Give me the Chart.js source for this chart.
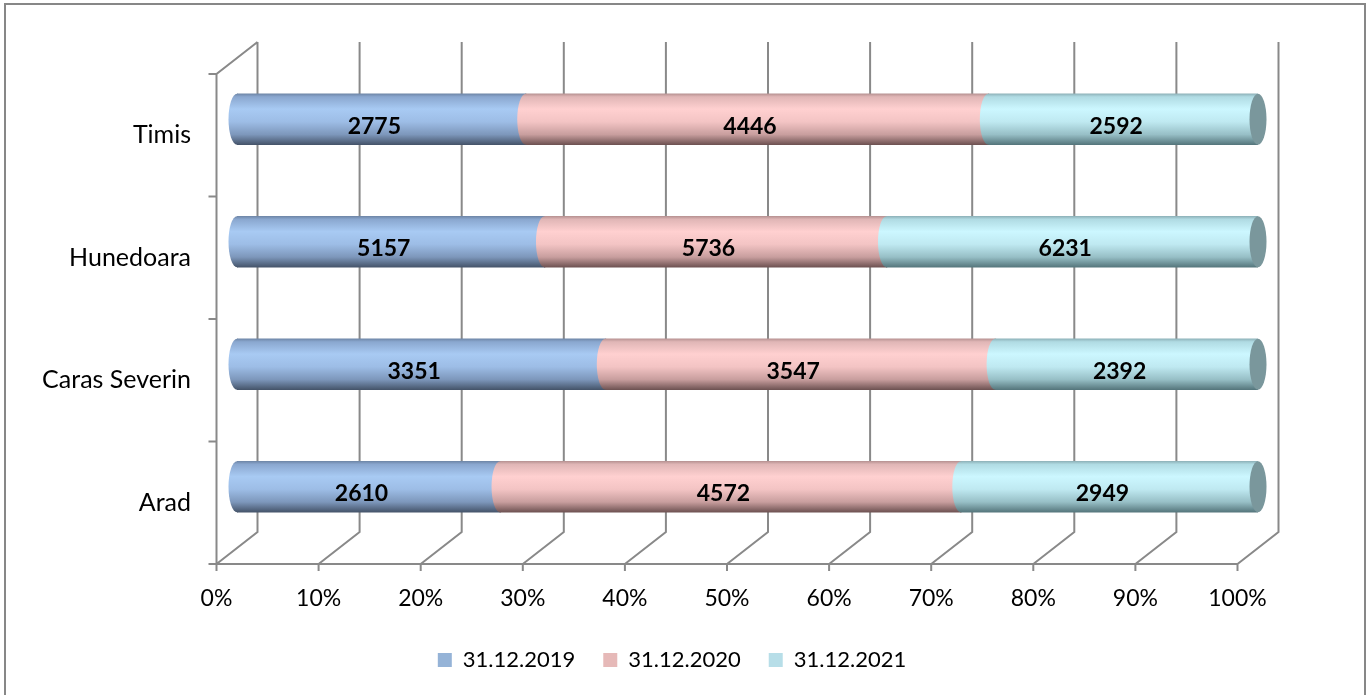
<!DOCTYPE html>
<html>
<head>
<meta charset="utf-8">
<script src="https://cdn.jsdelivr.net/npm/chart.js@4.4.1/dist/chart.umd.min.js"></script>
<style>
  html, body { margin: 0; padding: 0; background: #fff; overflow: hidden; }
  canvas { display: block; }
</style>
</head>
<body>
<canvas id="myChart" width="1367" height="720"></canvas>
<script>
// ---- data ----
const judete = ['Timis', 'Hunedoara', 'Caras Severin', 'Arad'];
const seriesLabels = ['31.12.2019', '31.12.2020', '31.12.2021'];
const val2019 = [2775, 5157, 3351, 2610];
const val2020 = [4446, 5736, 3547, 4572];
const val2021 = [2592, 6231, 2392, 2949];
const tickValues = [0, 10, 20, 30, 40, 50, 60, 70, 80, 90, 100];

// ---- styles ----
const legendColors = ['#95b3d7', '#e6b9b8', '#b7dee8'];
const shade = [
    ['#6f87a8', '#8aa7cf', '#a8caf3', '#9dbde6', '#7d97bb', '#45546a'],
    ['#b89393', '#e0b6b6', '#ffd0d0', '#f3c4c4', '#c89e9e', '#6e5252'],
    ['#8fb3ba', '#b0dbe3', '#ccf7ff', '#bfe9f1', '#97bfc6', '#55767c']
];
const capColor = '#7a979c';
const stopPos = [0, 0.06, 0.3, 0.55, 0.8, 1];
const BAR_H = 51;
const DX = 20.5, DY = 16;   // half depth of the 3d box
const RX = 8.5;             // ellipse radius of the cylinder ends
const GRID = '#898989';
const FONT = 'Lato';
const LEGEND_SHIFT = 43;

// procente din totalul fiecarui judet (100% stacked)
const rows = [val2019, val2020, val2021];
const totals = judete.map((_, i) => val2019[i] + val2020[i] + val2021[i]);
const pct = rows.map(r => r.map((v, i) => v / totals[i] * 100));

function cylGradient(chart, index, s) {
    const y = chart.scales.y;
    if (!y || !chart.chartArea) return legendColors[s];
    const cy = y.getPixelForValue(index);
    const g = chart.ctx.createLinearGradient(0, cy - BAR_H / 2, 0, cy + BAR_H / 2);
    stopPos.forEach((p, k) => g.addColorStop(p, shade[s][k]));
    return g;
}

// pereti 3d + grid + rama
const wallPlugin = {
    id: 'walls',
    afterLayout(chart) {
        // legenda centrata ca in original
        chart.legend.left += LEGEND_SHIFT;
        chart.legend.right += LEGEND_SHIFT;
    },
    beforeDraw(chart) {
        const c = chart.ctx;
        c.save();
        c.strokeStyle = '#878787';
        c.lineWidth = 2;
        c.strokeRect(5, 4, 1360, 740);
        c.restore();
    },
    beforeDatasetsDraw(chart) {
        const c = chart.ctx, x = chart.scales.x, a = chart.chartArea;
        c.save();
        c.strokeStyle = GRID;
        c.lineWidth = 2;
        c.beginPath();
        tickValues.forEach(v => {
            const px = x.getPixelForValue(v);
            // linie pe peretele din spate
            c.moveTo(px + DX, a.top - DY);
            c.lineTo(px + DX, a.bottom - DY);
            // diagonala pe podea
            c.lineTo(px - DX, a.bottom + DY);
            // tick
            c.moveTo(px - DX, a.bottom + DY);
            c.lineTo(px - DX, a.bottom + DY + 7);
        });
        const x0 = x.getPixelForValue(0) - DX;
        const x100 = x.getPixelForValue(100) - DX;
        // axa din fata
        c.moveTo(x0 - 8, a.bottom + DY);
        c.lineTo(x100, a.bottom + DY);
        // peretele din stanga
        c.moveTo(x0, a.bottom + DY);
        c.lineTo(x0, a.top + DY);
        c.lineTo(x0 + 2 * DX, a.top - DY);
        const band = (a.bottom - a.top) / judete.length;
        for (let k = 0; k <= judete.length; k++) {
            const yy = a.top + DY + k * band;
            c.moveTo(x0 - 8, yy);
            c.lineTo(x0, yy);
        }
        c.stroke();
        c.restore();
    },
    afterDatasetsDraw(chart) {
        const c = chart.ctx;
        c.save();
        // capete eliptice
        for (let s = 0; s < rows.length; s++) {
            const meta = chart.getDatasetMeta(s);
            meta.data.forEach(el => {
                const h = el.height / 2;
                c.fillStyle = el.options.backgroundColor;
                c.beginPath();
                c.ellipse(el.base, el.y, RX, h, 0, Math.PI / 2, Math.PI * 1.5);
                c.lineTo(el.base + 1, el.y - h);
                c.lineTo(el.base + 1, el.y + h);
                c.closePath();
                c.fill();
                if (s === rows.length - 1) {
                    c.fillStyle = capColor;
                    c.beginPath();
                    c.ellipse(el.x, el.y, RX, h, 0, 0, Math.PI * 2);
                    c.fill();
                }
            });
        }
        // etichete cu valori
        c.fillStyle = '#000';
        c.font = 'bold 23px ' + FONT;
        c.textAlign = 'center';
        c.textBaseline = 'middle';
        for (let s = 0; s < rows.length; s++) {
            chart.getDatasetMeta(s).data.forEach((el, i) => {
                c.fillText(String(rows[s][i]), (el.base + el.x) / 2 - 7, el.y + 7);
            });
        }
        c.restore();
    }
};

const ctx = document.getElementById('myChart').getContext('2d');
Chart.defaults.font.family = FONT;
Chart.defaults.color = '#000';

const chart = new Chart(ctx, {
    type: 'bar',
    data: {
        labels: judete,
        datasets: seriesLabels.map((lab, s) => ({
            label: lab,
            data: pct[s],
            backgroundColor: (cx) => cylGradient(cx.chart, cx.dataIndex, s),
            borderWidth: 0,
            barThickness: BAR_H
        }))
    },
    options: {
        responsive: false,
        animation: false,
        indexAxis: 'y',
        layout: { padding: { left: 0, right: 109, top: 58, bottom: 39 } },
        scales: {
            x: {
                stacked: true,
                min: 0,
                max: 100,
                grid: { display: false },
                border: { display: false },
                ticks: {
                    stepSize: 10,
                    padding: 29,
                    labelOffset: -DX,
                    font: { size: 23 },
                    callback: v => v + '%'
                },
                afterFit: s => { s.height = 73; }
            },
            y: {
                stacked: true,
                grid: { display: false },
                border: { display: false },
                ticks: { padding: 38, labelOffset: 16, font: { size: 25 } },
                afterFit: s => { s.width = 237; }
            }
        },
        plugins: {
            tooltip: { enabled: false },
            legend: {
                position: 'bottom',
                labels: {
                    boxWidth: 14,
                    boxHeight: 14,
                    padding: 28,
                    font: { size: 22 },
                    generateLabels(ch) {
                        const items = Chart.defaults.plugins.legend.labels.generateLabels(ch);
                        items.forEach((it, i) => {
                            it.fillStyle = legendColors[i];
                            it.strokeStyle = legendColors[i];
                            it.lineWidth = 0;
                        });
                        return items;
                    }
                }
            }
        }
    },
    plugins: [wallPlugin]
});
</script>
</body>
</html>
